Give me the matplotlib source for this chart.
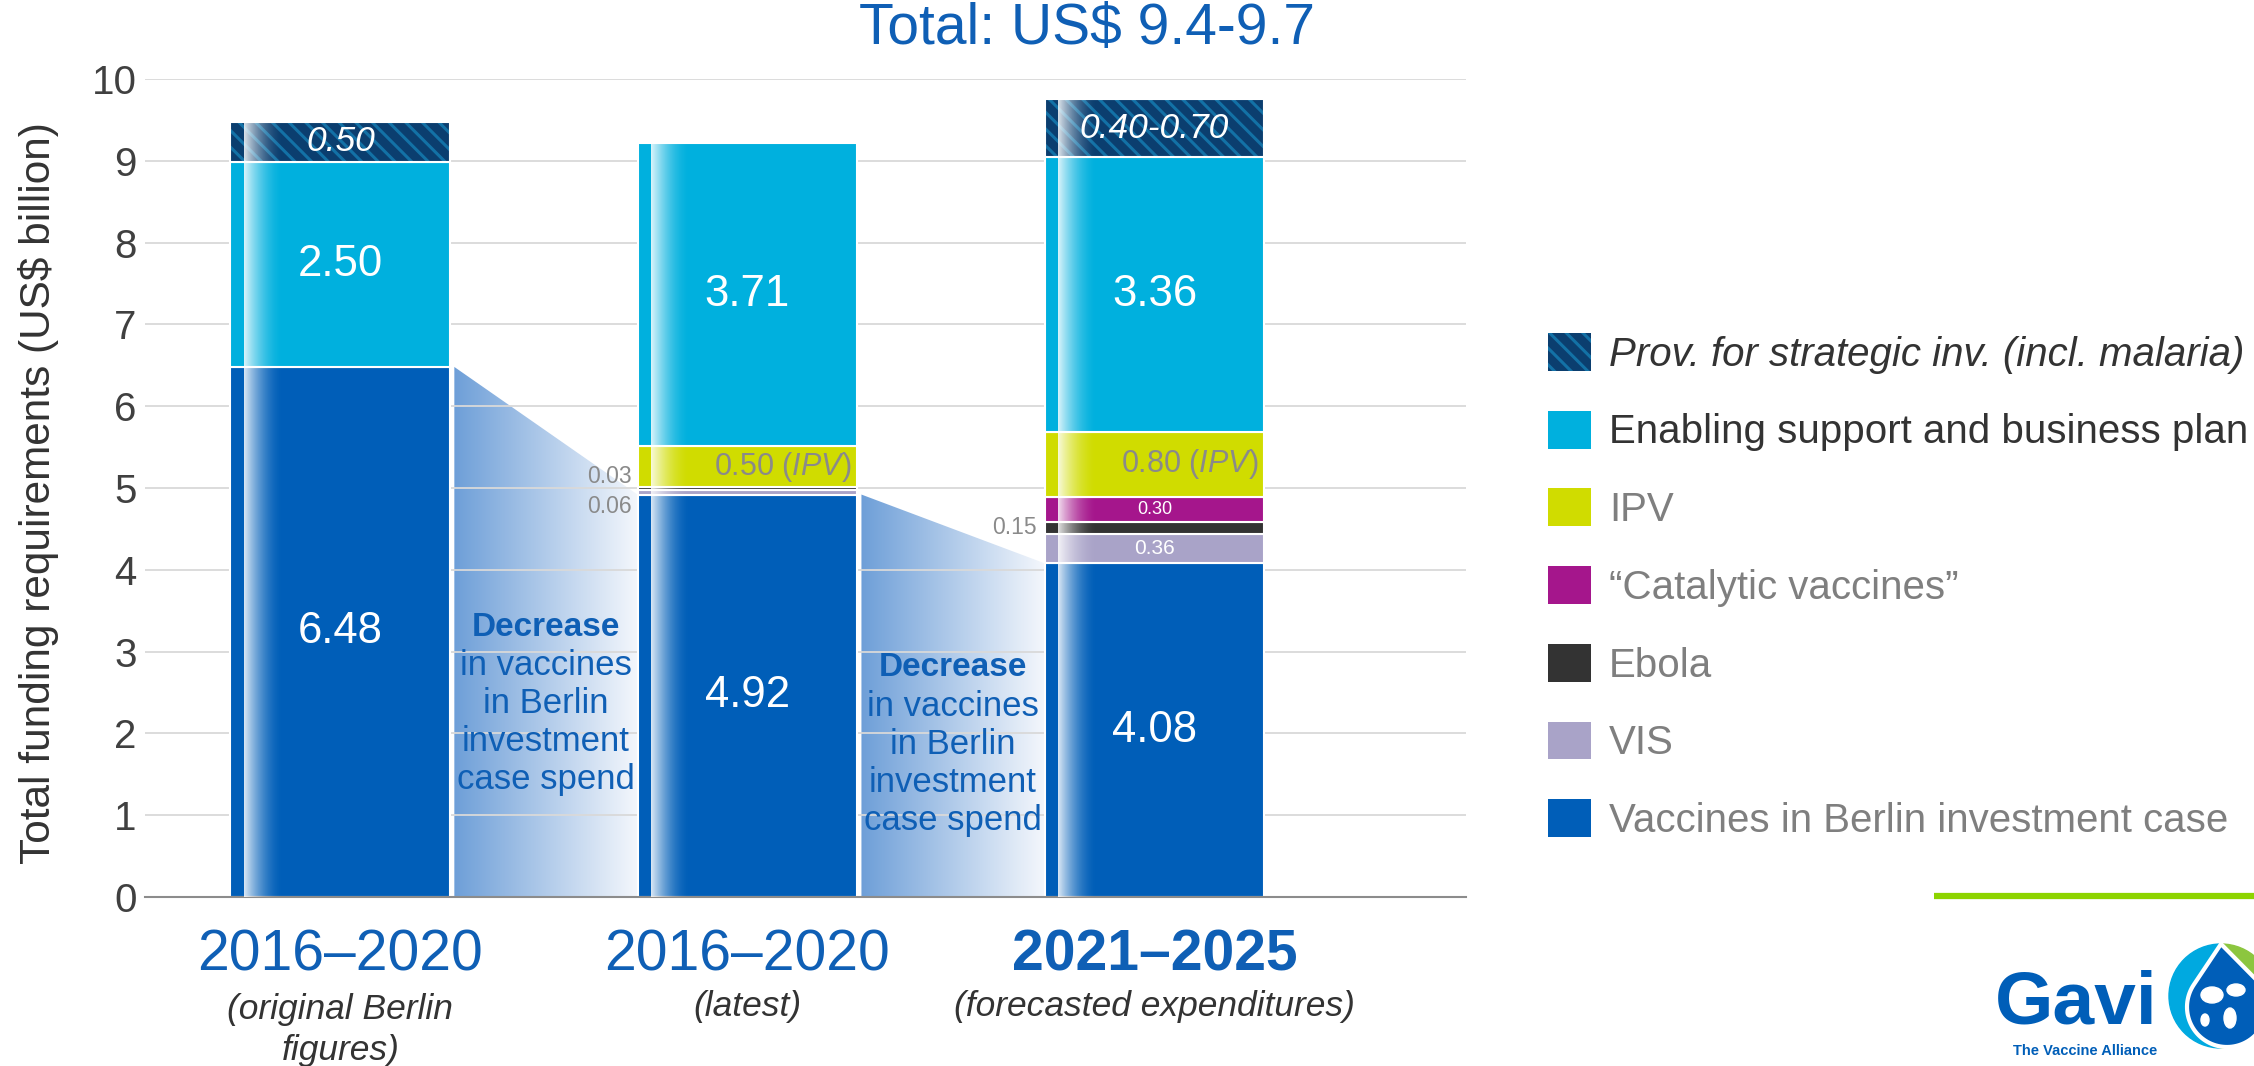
import numpy as np
import matplotlib.pyplot as plt
from matplotlib.patches import Polygon, Patch, Wedge, Ellipse
from matplotlib.colors import to_rgb

plt.rcParams['font.family'] = ['Liberation Sans', 'DejaVu Sans']
plt.rcParams['mathtext.fontset'] = 'custom'
plt.rcParams['mathtext.rm'] = 'Liberation Sans'
plt.rcParams['mathtext.it'] = 'Liberation Sans:italic'
plt.rcParams['hatch.linewidth'] = 2.2

# dados (US$ bilhões)
periods = ['2016–2020', '2016–2020', '2021–2025']
subtitles = ['(original Berlin\nfigures)', '(latest)', '(forecasted expenditures)']
vaccines = [6.48, 4.92, 4.08]
vis = [0, 0.06, 0.36]
ebola = [0, 0.03, 0.15]
catalytic = [0, 0, 0.30]
ipv = [0, 0.50, 0.80]
enabling = [2.50, 3.71, 3.36]
provision = [0.50, 0, 0.70]
provision_labels = ['0.50', '', '0.40-0.70']
legend_labels = ['Prov. for strategic inv. (incl. malaria)', 'Enabling support and business plan',
                 'IPV', '\u201cCatalytic vaccines\u201d', 'Ebola', 'VIS', 'Vaccines in Berlin investment case']

BLUE = '#005EB8'
TXT_BLUE = '#0F5FB5'
GRAY = '#8A8A8A'
colors = {'vaccines': BLUE, 'vis': '#A9A3C8', 'ebola': '#333333', 'catalytic': '#A5168C',
          'ipv': '#D0DC00', 'enabling': '#00B0DE', 'prov_face': '#0B3E6F', 'prov_hatch': '#1371A6'}

fig = plt.figure(figsize=(22.54, 10.66), dpi=100)
ax = fig.add_axes([0.0643, 0.1585, 0.5861, 0.7674])

x = np.arange(len(periods))
width = 0.54
segments = [('vaccines', vaccines), ('vis', vis), ('ebola', ebola), ('catalytic', catalytic),
            ('ipv', ipv), ('enabling', enabling)]

bottom = np.zeros(len(x))
bottoms = {}
for name, vals in segments:
    vals = np.array(vals)
    bottoms[name] = bottom.copy()
    mask = vals > 0
    ax.bar(x[mask], vals[mask], width, bottom=bottom[mask], color=colors[name],
           edgecolor='white', linewidth=1.5, zorder=2)
    bottom = bottom + vals

prov = np.array(provision)
bottoms['prov'] = bottom.copy()
mask = prov > 0
ax.bar(x[mask], prov[mask], width, bottom=bottom[mask], color=colors['prov_face'],
       edgecolor=colors['prov_hatch'], hatch='\\\\', linewidth=0, zorder=2)
ax.bar(x[mask], prov[mask], width, bottom=bottom[mask], facecolor='none',
       edgecolor='white', linewidth=1.5, zorder=2.5)
totals = bottom + prov

# brilho na lateral esquerda das barras
ramp = np.linspace(0, 1, 64)
shine = np.ones((1, 64, 4))
shine[..., 3] = 0.85 * (1 - ramp) ** 1.8
for xi, tot in zip(x, totals):
    left = xi - width / 2
    ax.imshow(shine, extent=(left + 0.06 * width, left + 0.24 * width, 0, tot),
              aspect='auto', zorder=3, interpolation='bilinear')

# áreas de "Decrease" entre as barras
c0 = np.array(to_rgb('#6E9FD8'))
c1 = np.array(to_rgb('#F4F7FC'))
g = np.linspace(0, 1, 128)[:, None]
grad = (c0 * (1 - g) + c1 * g)[None, :, :]
for i in range(len(x) - 1):
    x0 = x[i] + width / 2 + 0.01
    x1 = x[i + 1] - width / 2
    poly = Polygon([(x0, 0), (x0, vaccines[i]), (x1, vaccines[i + 1]), (x1, 0)],
                   closed=True, facecolor='none', edgecolor='none')
    ax.add_patch(poly)
    im = ax.imshow(grad, extent=(x0, x1, 0, max(vaccines[i], vaccines[i + 1])),
                   aspect='auto', zorder=0.2, interpolation='bilinear')
    im.set_clip_path(poly)
    xm = (x0 + x1) / 2
    y_top = 3.30 - 0.5 * i
    ax.text(xm, y_top, 'Decrease', ha='center', va='center', fontsize=24,
            fontweight='bold', color=TXT_BLUE, zorder=5)
    for j, line in enumerate(['in vaccines', 'in Berlin', 'investment', 'case spend']):
        ax.text(xm, y_top - 0.465 * (j + 1), line, ha='center', va='center',
                fontsize=25, color=TXT_BLUE, zorder=5)

# rótulos dos segmentos
for i in range(len(x)):
    mid = lambda name, v: bottoms[name][i] + v / 2
    ax.text(x[i], mid('vaccines', vaccines[i]), f'{vaccines[i]:.2f}', ha='center', va='center',
            fontsize=31.5, color='white', zorder=5)
    ax.text(x[i], mid('enabling', enabling[i]), f'{enabling[i]:.2f}', ha='center', va='center',
            fontsize=31.5, color='white', zorder=5)
    if provision[i] > 0:
        ax.text(x[i], mid('prov', provision[i]), provision_labels[i], ha='center', va='center',
                fontsize=25.5, style='italic', color='white', zorder=5)
    if ipv[i] > 0:
        ax.text(x[i] + width / 2 - 0.015, mid('ipv', ipv[i]), f'{ipv[i]:.2f} ' + r'$\mathit{(IPV)}$',
                ha='right', va='center', fontsize=22, color=GRAY, zorder=5)
    if catalytic[i] > 0:
        ax.text(x[i], mid('catalytic', catalytic[i]), f'{catalytic[i]:.2f}', ha='center', va='center',
                fontsize=13, color='white', zorder=5)

# barra 2: rótulos pequenos fora da barra
ax.text(x[1] - width / 2 - 0.015, bottoms['ebola'][1] + ebola[1] / 2 + 0.14, f'{ebola[1]:.2f}',
        ha='right', va='center', fontsize=16.5, color=GRAY, zorder=5)
ax.text(x[1] - width / 2 - 0.015, bottoms['vis'][1] + vis[1] / 2 - 0.17, f'{vis[1]:.2f}',
        ha='right', va='center', fontsize=16.5, color=GRAY, zorder=5)
# barra 3
ax.text(x[2] - width / 2 - 0.02, bottoms['ebola'][2] + ebola[2] / 2, f'{ebola[2]:.2f}',
        ha='right', va='center', fontsize=16.5, color=GRAY, zorder=5)
ax.text(x[2], bottoms['vis'][2] + vis[2] / 2, f'{vis[2]:.2f}',
        ha='center', va='center', fontsize=15, color='white', zorder=5)

# eixos
ax.set_xlim(-0.48, 2.765)
ax.set_ylim(0, 10)
ax.set_yticks(range(0, 11))
ax.tick_params(axis='y', length=0, pad=6, labelsize=29, labelcolor='#404040')
ax.set_xticks([])
ax.yaxis.grid(True, color='#D9D9D9', linewidth=1.3)
ax.set_axisbelow(True)
for s in ['top', 'right', 'left']:
    ax.spines[s].set_visible(False)
ax.spines['bottom'].set_color('#8C8C8C')
ax.spines['bottom'].set_linewidth(1.5)

tr = ax.get_xaxis_transform()
for i, (p, sub) in enumerate(zip(periods, subtitles)):
    ax.text(x[i], -0.072, p, transform=tr, ha='center', va='center', fontsize=41,
            color=TXT_BLUE, fontweight='bold' if i == 2 else 'normal')
    ax.text(x[i], -0.134 if '\n' not in sub else -0.163, sub, transform=tr, ha='center',
            va='center', fontsize=25.5, style='italic', color='#333333', linespacing=1.3)

fig.text(39 / 2254, 0.5375, 'Total funding requirements (US$ billion)', rotation=90,
         ha='center', va='center', fontsize=30.5, color='#333333')
fig.text(1087 / 2254, 1 - 29 / 1066, 'Total: US$ 9.4-9.7', ha='center', va='center',
         fontsize=41, color=TXT_BLUE)

# legenda
handles = [Patch(facecolor=colors['prov_face'], edgecolor=colors['prov_hatch'], hatch='\\\\', linewidth=0),
           Patch(facecolor=colors['enabling']), Patch(facecolor=colors['ipv']),
           Patch(facecolor=colors['catalytic']), Patch(facecolor=colors['ebola']),
           Patch(facecolor=colors['vis']), Patch(facecolor=colors['vaccines'])]
leg = fig.legend(handles, legend_labels, loc='upper left', bbox_to_anchor=(1548 / 2254, 1 - 333 / 1066),
                 frameon=False, fontsize=29, handlelength=1.07, handleheight=1.07, handletextpad=0.45,
                 labelspacing=0.92, borderpad=0, borderaxespad=0)
for k, t in enumerate(leg.get_texts()):
    t.set_color('#333333' if k < 2 else '#7F7F7F')
    if k == 0:
        t.set_style('italic')

# rodapé: linha verde e logo
deco = fig.add_axes([0, 0, 1, 1], zorder=-1)
deco.set_xlim(0, 2254)
deco.set_ylim(1066, 0)
deco.axis('off')
deco.plot([1934, 2254], [896, 896], color='#8DD400', linewidth=4.5, solid_capstyle='butt')
deco.text(2158, 1024, 'Gavi', ha='right', va='baseline', fontsize=54, fontweight='bold', color=BLUE)
deco.text(2157, 1051, 'The Vaccine Alliance', ha='right', va='center', fontsize=10.5,
          fontweight='bold', color=BLUE)
cx, cy, R = 2221, 996, 52
deco.add_patch(Wedge((cx, cy), R, 90, 270, color='#00A9E0'))
deco.add_patch(Wedge((cx, cy), R, -90, 90, color='#8CC63F'))
apex = np.array([2221, 944])
dc = np.array([2227, 1007])
r = 40
d = np.hypot(*(apex - dc))
th = np.arctan2(apex[1] - dc[1], apex[0] - dc[0])
off = np.arccos(r / d)
ang = np.linspace(th + off, th + 2 * np.pi - off, 80)
drop = np.vstack([apex, np.c_[dc[0] + r * np.cos(ang), dc[1] + r * np.sin(ang)]])
deco.add_patch(Polygon(drop, closed=True, facecolor=BLUE, edgecolor='white', linewidth=3))
for ex, ey, ew, eh in [(2212, 995, 22, 16), (2236, 990, 18, 12), (2230, 1018, 12, 20), (2205, 1020, 8, 12)]:
    deco.add_patch(Ellipse((ex, ey), ew, eh, color='white'))

fig.savefig('out.png', dpi=100)
